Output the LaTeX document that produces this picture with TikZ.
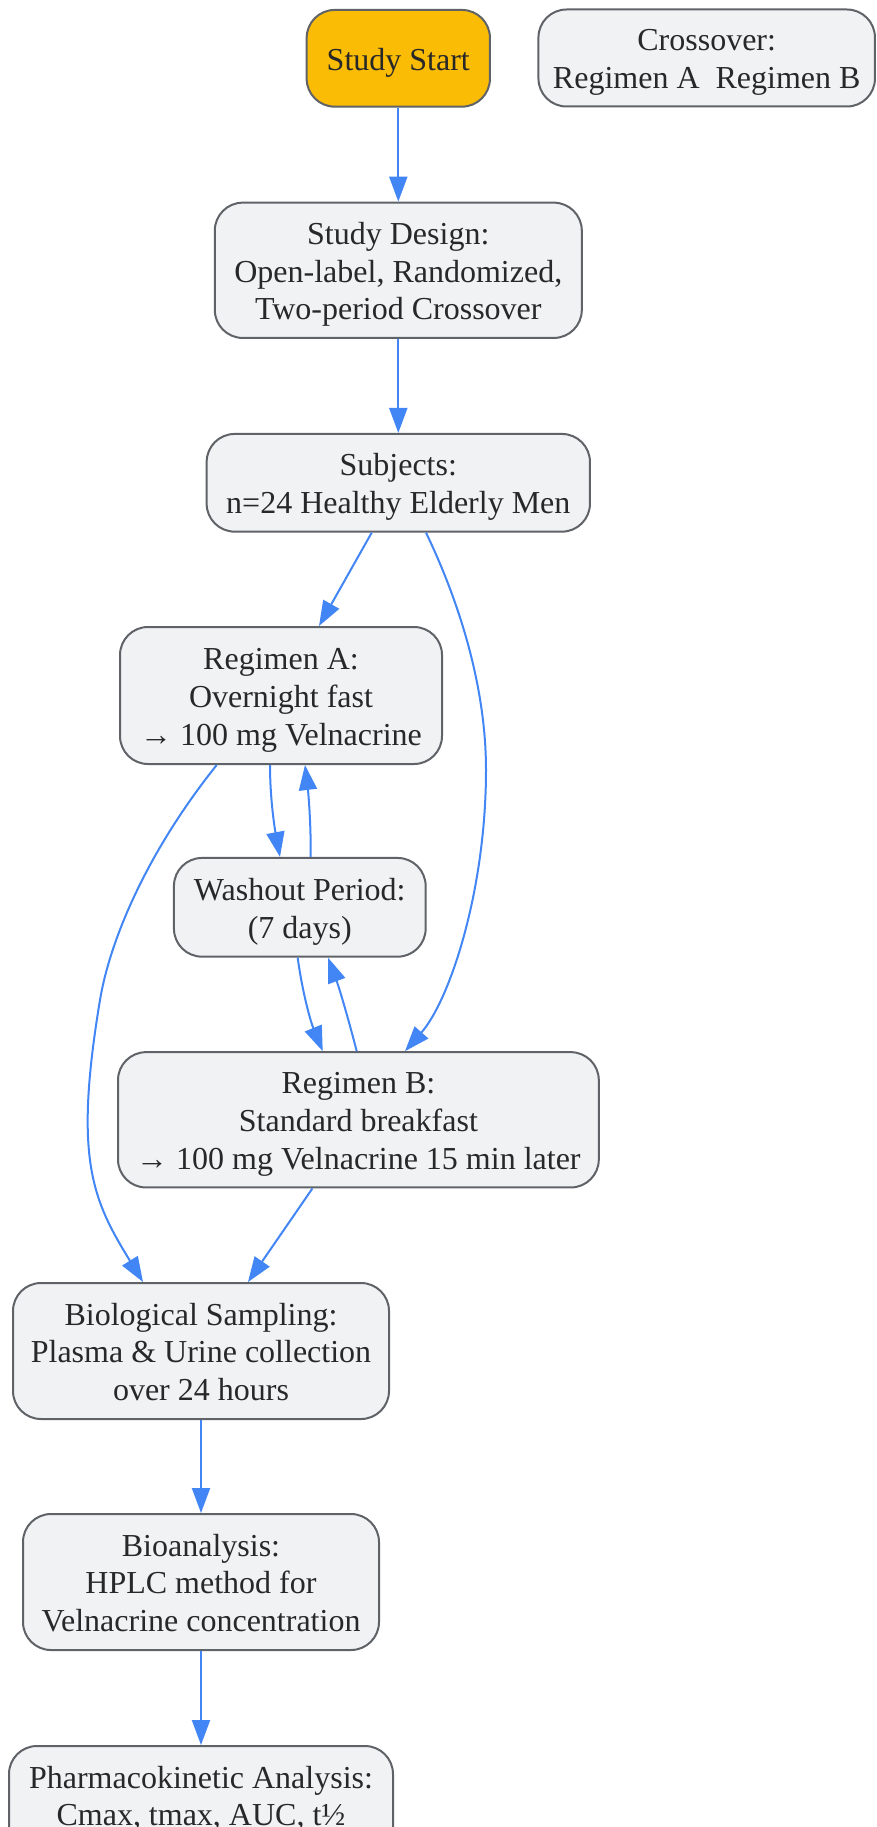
\documentclass[tikz,border=0pt]{standalone}
\usepackage{fontspec}
\setmainfont{Liberation Serif}
\usetikzlibrary{arrows.meta,calc}
\definecolor{edgeblue}{RGB}{66,133,244}
\definecolor{boxfill}{RGB}{241,242,244}
\definecolor{boxdraw}{RGB}{95,99,104}
\definecolor{startfill}{RGB}{251,188,5}
\definecolor{txt}{RGB}{40,40,40}
\newcommand\ls{\rule[-6.9pt]{0pt}{37.4pt}}
\begin{document}
\begin{tikzpicture}[x=1pt,y=-1pt,
  box/.style={draw=boxdraw, fill=boxfill, line width=2pt, rounded corners=28pt,
    inner sep=0pt, align=center, text=txt, font=\fontsize{32}{37.8}\selectfont},
  edge/.style={draw=edgeblue, line width=2pt, -{Triangle[length=25pt,width=18pt]}}]
\useasboundingbox (0,0) rectangle (876,1827);
\clip (0,0) rectangle (876,1827);

\node[box, fill=startfill, minimum width=183.3pt, minimum height=96.7pt] (start) at (398.3,58.3) {\ls Study Start\ls};
\node[box, minimum width=336.5pt, minimum height=97pt] (cross) at (706.7,58) {\ls Crossover:\\Regimen A\ \ Regimen B\ls};
\node[box, minimum width=367pt, minimum height=135.3pt] (design) at (398.3,270.3) {\ls Study Design:\\Open-label, Randomized,\\Two-period Crossover\ls};
\node[box, minimum width=383.3pt, minimum height=97.7pt] (subj) at (398.3,482.8) {\ls Subjects:\\n=24 Healthy Elderly Men\ls};
\node[box, minimum width=322pt, minimum height=137pt] (regA) at (281,695.5) {\ls Regimen A:\\Overnight fast\\→ 100 mg Velnacrine\ls};
\node[box, minimum width=251.7pt, minimum height=98.7pt] (wash) at (299.8,907.3) {\ls Washout Period:\\(7 days)\ls};
\node[box, minimum width=480.8pt, minimum height=135.3pt] (regB) at (358.4,1119.8) {\ls Regimen B:\\Standard breakfast\\→ 100 mg Velnacrine 15 min later\ls};
\node[box, minimum width=376pt, minimum height=136pt] (bio) at (201,1351) {\ls Biological Sampling:\\Plasma \& Urine collection\\over 24 hours\ls};
\node[box, minimum width=356pt, minimum height=136pt] (bioan) at (201,1582) {\ls Bioanalysis:\\HPLC method for\\Velnacrine concentration\ls};
\node[box, minimum width=384pt, minimum height=136pt] (pk) at (201,1814) {\ls Pharmacokinetic Analysis:\\Cmax, tmax, AUC, t½\\ \ls};

\draw[edge] (start) -- (design);
\draw[edge] (design) -- (subj);
\draw[edge] ([xshift=-26.6pt]subj.south) -- ([xshift=38pt]regA.north);
\draw[edge] ([xshift=27.7pt]subj.south) .. controls (455,593) and (486,680) .. (486,770)
  .. controls (486,890) and (450,1000) .. ([xshift=46.6pt]regB.north);
\draw[edge] ([xshift=-11pt]regA.south) .. controls (270,800) and (275,830) .. ([xshift=-19.8pt]wash.north);
\draw[edge] ([xshift=10.9pt]wash.north) .. controls (311,820) and (308,790) .. ([xshift=24pt]regA.south);
\draw[edge] ([xshift=-2.1pt]wash.south) .. controls (302,990) and (310,1020) .. ([xshift=-35.7pt]regB.north);
\draw[edge] ([xshift=-1.7pt]regB.north) .. controls (350,1025) and (340,990) .. ([xshift=28.2pt]wash.south);
\draw[edge] ([xshift=-64.3pt]regA.south) .. controls (146.7,852.6) and (110,940) .. (100,1000)
  .. controls (73.3,1160) and (93,1200.5) .. ([xshift=-58pt]bio.north);
\draw[edge] ([xshift=-46pt]regB.south) -- ([xshift=47pt]bio.north);
\draw[edge] (bio) -- (bioan);
\draw[edge] (bioan) -- (pk);
\end{tikzpicture}
\end{document}
